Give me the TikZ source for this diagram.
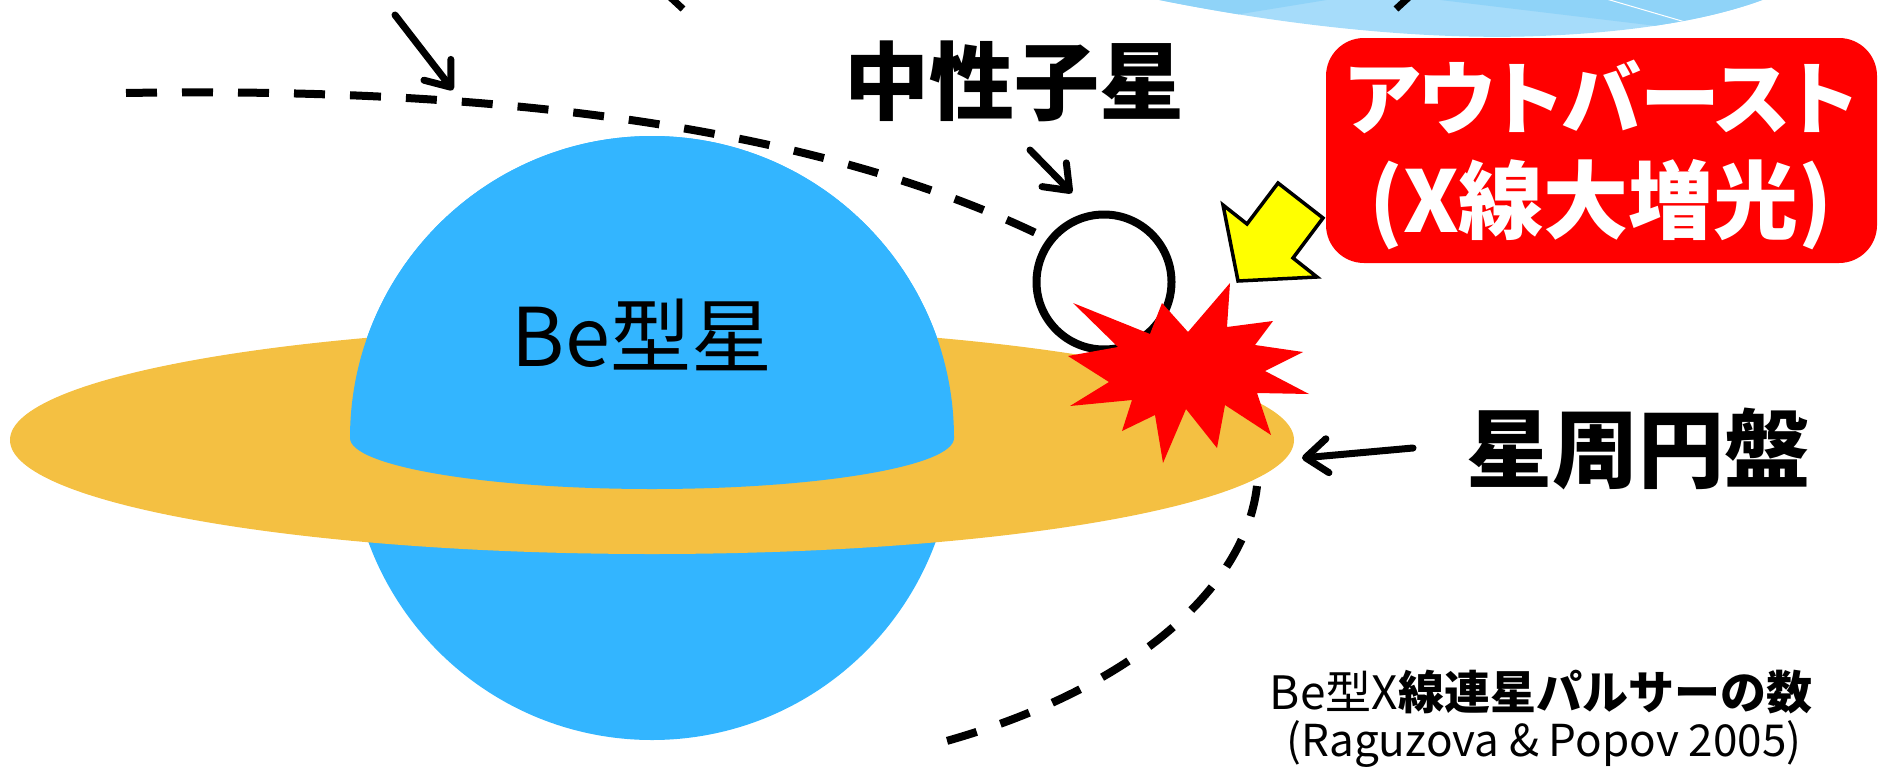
\documentclass[tikz,border=0pt]{standalone}
\usepackage{fontspec}
\newfontfamily\jp{Noto Sans CJK JP}
\usetikzlibrary{arrows.meta,shapes.geometric}
\definecolor{bestar}{RGB}{51,181,255}
\definecolor{diskorange}{RGB}{244,192,66}
\definecolor{paleblue}{RGB}{166,220,250}
\definecolor{midblue}{RGB}{143,211,248}
\definecolor{flashyellow}{RGB}{255,255,0}
\tikzset{
  orbit/.style={line width=8pt, dash pattern=on 31pt off 25pt},
  pointer/.style={line width=7pt, line cap=round, -{Straight Barb[length=22pt,width=34pt,round]}},
  txt/.style={inner sep=0pt, text=black},
}
\begin{document}
\begin{tikzpicture}[x=1pt,y=1pt]
\useasboundingbox (0,0) rectangle (1878,-771);

% fragment of the sky picture along the top edge
\begin{scope}
  \path[clip] (1135,5) .. controls (1300,-30) and (1440,-40) .. (1540,-36)
              .. controls (1640,-32) and (1720,-18) .. (1775,5) -- cycle;
  \fill[paleblue] (1100,10) rectangle (1800,-50);
  \fill[midblue] (1080,10) -- (1388,10) -- (1081,-40) -- cycle;
  \fill[midblue] (1357,10) -- (1690,-30) -- (1800,-50) -- (1800,10) -- cycle;
  \draw[white, line width=1pt] (1603,2) -- (1692,-24);
\end{scope}
\draw[line width=7pt] (670,3) -- (683,-9);
\draw[line width=7pt] (1409,3) -- (1396,-9);

% orbit of the neutron star
\coordinate (orbA) at (126,-93);
\coordinate (orbB) at (1040,-235);
\coordinate (orbC) at (1257,-486);
\coordinate (orbD) at (943,-742);
\draw[orbit] (orbA) .. controls (420,-88) and (780,-110) .. (orbB);
\draw[orbit] (orbC) .. controls (1245,-590) and (1130,-690) .. (orbD);

% Be star with its circumstellar disk
\fill[bestar] (652,-438) circle[radius=302pt];
\node[ellipse, fill=diskorange, minimum width=1284pt, minimum height=228pt, inner sep=0pt] (disk) at (652,-440) {};
\fill[bestar] (350,-438) arc[start angle=180, end angle=0, radius=302pt]
   arc[start angle=0, end angle=-180, x radius=302pt, y radius=51pt] -- cycle;

% neutron star
\node[circle, draw, line width=8pt, fill=white, minimum size=135pt, inner sep=0pt] (ns) at (1104,-282) {};

% explosion
\fill[red] (1073,-303) -- (1150,-334) -- (1162,-303) -- (1188,-332) -- (1230,-283)
  -- (1227,-327) -- (1273,-321) -- (1255,-345) -- (1303,-352) -- (1265,-371)
  -- (1309,-394) -- (1257,-393) -- (1271,-435) -- (1225,-405) -- (1217,-448)
  -- (1186,-409) -- (1163,-463) -- (1155,-415) -- (1122,-431) -- (1132,-400)
  -- (1070,-406) -- (1109,-382) -- (1068,-356) -- (1118,-347) -- cycle;

% yellow block arrow
\draw[line width=3.5pt, fill=flashyellow, line join=miter]
  (1238,-281) -- (1317,-277) -- (1293,-258) -- (1323,-218) -- (1278,-183)
  -- (1247,-224) -- (1223,-205) -- cycle;

% outburst box
\node[rectangle, rounded corners=38pt, fill=red, minimum width=551pt, minimum height=225pt, inner sep=0pt] (burst) at (1601.5,-150.5) {};
\node[txt, text=white, font=\jp\bfseries\fontsize{80}{96}\selectfont\addfontfeatures{RawFeature=+palt}] (burstA) at (1601,-97) {アウトバースト};
\node[txt, text=white, font=\jp\bfseries\fontsize{85}{100}\selectfont] (burstB) at (1601,-205) {(X線大増光)};

% labels
\node[txt, font=\jp\bfseries\fontsize{85}{100}\selectfont] (nslabel) at (1014,-81) {中性子星};
\node[txt, font=\jp\fontsize{81}{96}\selectfont] (belabel) at (642,-335) {Be型星};
\node[txt, font=\jp\bfseries\fontsize{86}{100}\selectfont] (disklabel) at (1638,-449) {星周円盤};
\node[txt, font=\jp\fontsize{46}{55}\selectfont] (countA) at (1541,-692) {Be型X{\bfseries 線連星パルサーの数}};
\node[txt, font=\jp\fontsize{44}{53}\selectfont] (countB) at (1544,-744) {(Raguzova \& Popov 2005)};

% pointers
\coordinate (p1s) at (395,-15);  \coordinate (p1e) at (453,-90);
\coordinate (p2s) at (1030,-150); \coordinate (p2e) at (1072,-193);
\coordinate (p3s) at (1413,-448); \coordinate (p3e) at (1302,-458);
\draw[pointer] (p1s) -- (p1e);
\draw[pointer] (p2s) -- (p2e);
\draw[pointer] (p3s) -- (p3e);
\end{tikzpicture}
\end{document}
